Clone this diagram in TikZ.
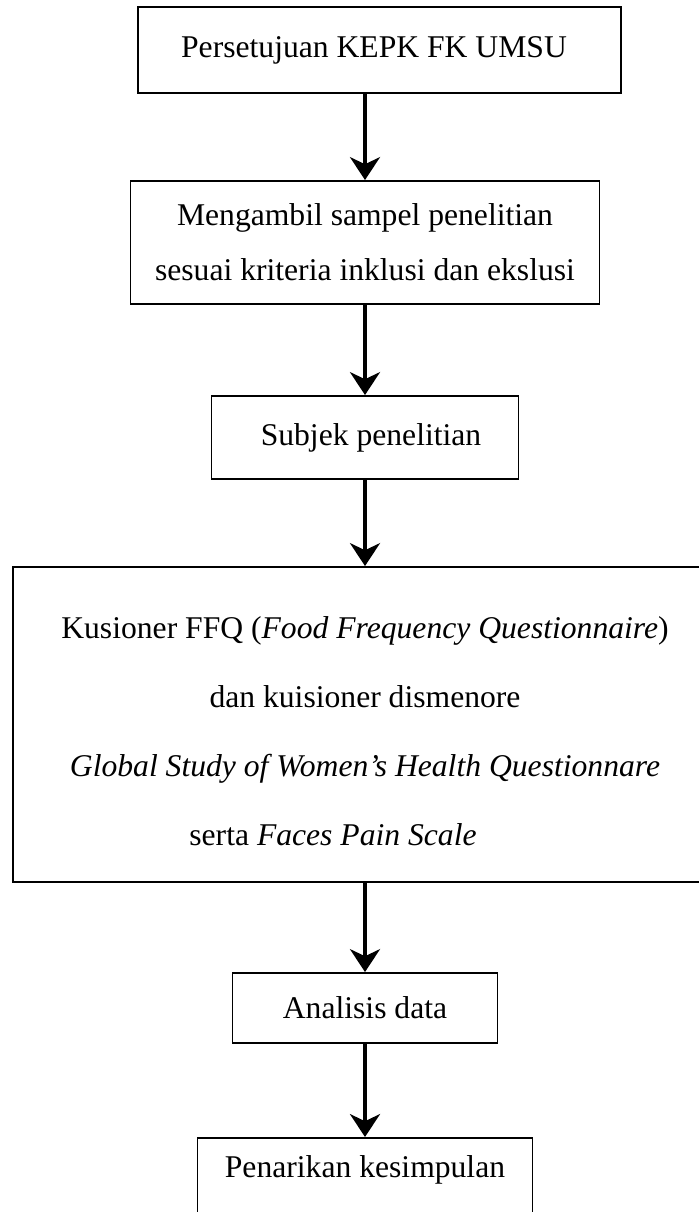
\documentclass[tikz,border=0pt]{standalone}
\usepackage{fontspec}
\setmainfont{Liberation Serif}
\usetikzlibrary{arrows.meta}

\tikzset{
  kotak/.style={shape=rectangle, draw, line width=1.1pt, inner sep=0pt, align=center,
    font=\fontsize{18}{31.3}\selectfont},
  panah/.style={->, line width=2.4pt},
}

\begin{document}
\begin{tikzpicture}[>={Stealth[length=13pt,width=17pt,inset=4pt]}]
\clip (0,0) rectangle (13.98,-24.24);

\node (a) at (7.59,-1.0) [kotak, minimum width=9.66cm, minimum height=1.72cm]{Persetujuan KEPK FK UMSU\hspace*{0.22cm}};
\node (b) at (7.3,-4.85) [kotak, minimum width=9.38cm, minimum height=2.46cm]{Mengambil sampel penelitian\\ sesuai kriteria inklusi dan ekslusi};
\node (c) at (7.3,-8.75) [kotak, minimum width=6.14cm, minimum height=1.66cm]{\hspace*{0.24cm}Subjek penelitian};
\node (d) at (7.3,-14.49) [kotak, minimum width=14.08cm, minimum height=6.3cm, font=\fontsize{18}{39.3}\selectfont]{\rule{0pt}{0.7cm}Kusioner FFQ (\textit{Food Frequency Questionnaire})\\ dan kuisioner dismenore\hspace*{0.52cm}\\ \textit{Global Study of Women’s Health Questionnare}\hspace*{0.48cm}\\ serta \textit{Faces Pain Scale}\hspace*{1.28cm}};
\node (e) at (7.3,-20.16) [kotak, minimum width=5.3cm, minimum height=1.4cm]{Analisis data};
\node (f) at (7.3,-22.74) [kotak, anchor=north, minimum width=6.7cm, text height=0.8cm, text depth=1.2cm]{Penarikan kesimpulan};

\draw [panah] (a.south -| b) -- (b);
\draw [panah] (b) -- (c);
\draw [panah] (c) -- (d);
\draw [panah] (d) -- (e);
\draw [panah] (e) -- (f);
\end{tikzpicture}
\end{document}
